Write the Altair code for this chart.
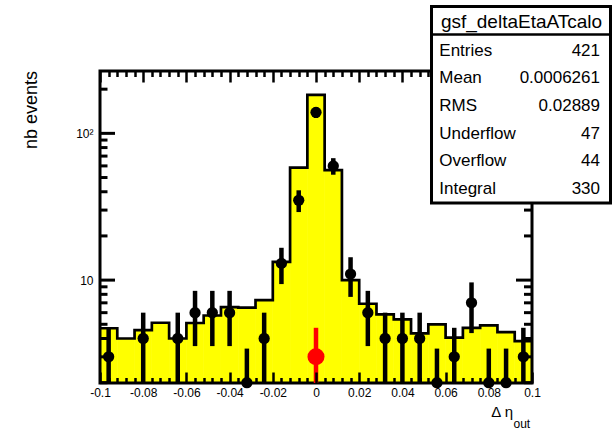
import altair as alt
import numpy as np
import pandas as pd

# ---------------- data ----------------
bin_edges = [-0.1, -0.092, -0.084, -0.076, -0.068, -0.06, -0.052, -0.044, -0.036,
             -0.028, -0.02, -0.012, -0.004, 0.004, 0.012, 0.02, 0.028, 0.036,
             0.044, 0.052, 0.06, 0.068, 0.076, 0.084, 0.092, 0.1]
ref_counts = [4.7, 4.0, 4.56, 5.12, 4.0, 5.1, 5.74, 6.55, 6.5, 7.31, 13.3, 58.4,
              183.0, 56.2, 10.0, 6.9, 5.84, 5.4, 4.33, 4.99, 4.05, 4.73, 4.91,
              4.42, 3.84]

pt_x = [-0.096, -0.080, -0.064, -0.056, -0.048, -0.040, -0.032, -0.024, -0.016,
        -0.008, 0.0, 0.008, 0.016, 0.024, 0.032, 0.040, 0.048, 0.056, 0.064,
        0.072, 0.080, 0.088, 0.096]
pt_n = [3, 4, 4, 6, 6, 6, 2, 4, 13, 35, 139, 60, 11, 6, 4, 4, 4, 2, 3, 7, 2, 2, 3]

red_x = [0.0]
red_n = [3]

x_major = [-0.1, -0.08, -0.06, -0.04, -0.02, 0, 0.02, 0.04, 0.06, 0.08, 0.1]
x_minor = [-0.096, -0.092, -0.088, -0.084, -0.076, -0.072, -0.068, -0.064,
           -0.056, -0.052, -0.048, -0.044, -0.036, -0.032, -0.028, -0.024,
           -0.016, -0.012, -0.008, -0.004, 0.004, 0.008, 0.012, 0.016,
           0.024, 0.028, 0.032, 0.036, 0.044, 0.048, 0.052, 0.056,
           0.064, 0.068, 0.072, 0.076, 0.084, 0.088, 0.092, 0.096]
y_major = [10, 100]
y_minor = [2, 3, 4, 5, 6, 7, 8, 9, 20, 30, 40, 50, 60, 70, 80, 90, 200]

stats_title = "gsf_deltaEtaATcalo"
stats_names = ["Entries", "Mean", "RMS", "Underflow", "Overflow", "Integral"]
stats_values = ["421", "0.0006261", "0.02889", "47", "44", "330"]

# ---------------- tables ----------------
df_bins = pd.DataFrame({"lo": bin_edges[:-1], "hi": bin_edges[1:], "count": ref_counts})
df_hist = pd.DataFrame({"edge": bin_edges, "count": ref_counts + [ref_counts[-1]]})
n = np.array(pt_n, dtype=float)
df_pts = pd.DataFrame({"x": pt_x, "n": n, "lo": n - np.sqrt(n), "hi": n + np.sqrt(n)})
rn = np.array(red_n, dtype=float)
df_red = pd.DataFrame({"x": red_x, "n": rn, "lo": rn - np.sqrt(rn), "hi": rn + np.sqrt(rn)})
df_ymaj = pd.DataFrame({"v": y_major})
df_ymin = pd.DataFrame({"v": y_minor})
one = pd.DataFrame({"a": [0]})

W, H = 432, 312
FONT = "Liberation Sans"
XMIN, XMAX = -0.1, 0.1
PX = (XMAX - XMIN) / W  # data units per pixel (for tick lengths)

xs = alt.Scale(domain=[XMIN, XMAX], nice=False, zero=False)
ys = alt.Scale(type="log", domain=[1.99, 266], nice=False)


def tick_axis(values, size, orient, offset, z):
    return alt.Axis(orient=orient, offset=offset, values=values, tickSize=size,
                    tickWidth=2.5, tickColor="black", labels=False, domain=False,
                    grid=False, title=None, zindex=z)


x_label_axis = alt.Axis(orient="bottom", values=x_major, ticks=False, domain=False,
                        grid=False, title=None, labelFont=FONT, labelFontSize=12,
                        labelColor="black", labelPadding=4, labelFlush=False,
                        labelOverlap=False, labelExpr="'' + datum.value")
y_label_axis = alt.Axis(orient="left", values=y_major, ticks=False, domain=False,
                        grid=False, title=None, labelFont=FONT, labelFontSize=12,
                        labelColor="black", labelPadding=7, labelOverlap=False,
                        labelExpr="datum.value == 100 ? '10\u00b2' : '10'")


def yticks(df, a, b):
    return alt.Chart(df).mark_rule(color="black", strokeWidth=3).encode(
        y=alt.Y("v:Q", scale=ys, axis=None),
        x=alt.X(datum=a, scale=xs, axis=None),
        x2=alt.X2(datum=b))


yt = [yticks(df_ymaj, XMIN, XMIN + 15 * PX), yticks(df_ymin, XMIN, XMIN + 7.5 * PX),
      yticks(df_ymaj, XMAX - 16 * PX, XMAX), yticks(df_ymin, XMAX - 8 * PX, XMAX)]

fill = alt.Chart(df_bins).mark_bar(color="#ffff00", stroke="#ffff00",
                                   strokeWidth=0.6).encode(
    x=alt.X("lo:Q", scale=xs, axis=x_label_axis),
    x2="hi:Q",
    y=alt.Y("count:Q", scale=ys, axis=y_label_axis),
    y2=alt.value(H),
)

outline = alt.Chart(df_hist).mark_line(interpolate="step-after", color="black",
                                       strokeWidth=2.7).encode(
    x=alt.X("edge:Q", scale=xs, axis=None),
    y=alt.Y("count:Q", scale=ys, axis=None),
)


def tick_layer(xax):
    return alt.Chart(df_hist).mark_point(opacity=0).encode(
        x=alt.X("edge:Q", scale=xs, axis=xax),
        y=alt.Y("count:Q", scale=ys, axis=None),
    )


t1 = tick_layer(tick_axis(x_major, 11, "top", -H, 1))
t2 = tick_layer(tick_axis(x_minor, 5.5, "top", -H, 1))
t3 = tick_layer(tick_axis(x_major, 11, "bottom", -H, 0))
t4 = tick_layer(tick_axis(x_minor, 5.5, "bottom", -H, 0))

frame = alt.Chart(one).mark_rect(fillOpacity=0, stroke="black", strokeWidth=3).encode(
    x=alt.value(0), x2=alt.value(W), y=alt.value(0), y2=alt.value(H))

errs = alt.Chart(df_pts).mark_rule(color="black", strokeWidth=4.5, clip=True).encode(
    x=alt.X("x:Q", scale=xs, axis=None),
    y=alt.Y("lo:Q", scale=ys, axis=None),
    y2="hi:Q",
)
pts = alt.Chart(df_pts).mark_circle(color="black", size=127, opacity=1).encode(
    x=alt.X("x:Q", scale=xs, axis=None),
    y=alt.Y("n:Q", scale=ys, axis=None),
)
red_err = alt.Chart(df_red).mark_rule(color="#ff0000", strokeWidth=4.5, clip=True).encode(
    x=alt.X("x:Q", scale=xs, axis=None),
    y=alt.Y("lo:Q", scale=ys, axis=None),
    y2="hi:Q",
)
red_pt = alt.Chart(df_red).mark_circle(color="#ff0000", size=290, opacity=1).encode(
    x=alt.X("x:Q", scale=xs, axis=None),
    y=alt.Y("n:Q", scale=ys, axis=None),
)

# ---------------- stats box ----------------
bx0, bx1, by0, by1 = 331.5, 510.5, -64.5, 132
box = alt.Chart(one).mark_rect(fill="white", stroke="black", strokeWidth=3).encode(
    x=alt.value(bx0), x2=alt.value(bx1), y=alt.value(by0), y2=alt.value(by1))
sep = alt.Chart(one).mark_rule(color="black", strokeWidth=2.5).encode(
    x=alt.value(bx0), x2=alt.value(bx1), y=alt.value(-36.5))
title_txt = alt.Chart(one).mark_text(text=stats_title, font=FONT, fontSize=19,
                                     align="center", baseline="alphabetic",
                                     color="black").encode(
    x=alt.value(421.5), y=alt.value(-42.7))

row_layers = []
for i, (nm, vl) in enumerate(zip(stats_names, stats_values)):
    yb = -15.3 + 27.66 * i
    row_layers.append(alt.Chart(one).mark_text(text=nm, font=FONT, fontSize=17,
                                               align="left", baseline="alphabetic",
                                               color="black").encode(
        x=alt.value(339.3), y=alt.value(yb)))
    row_layers.append(alt.Chart(one).mark_text(text=vl, font=FONT, fontSize=17,
                                               align="right", baseline="alphabetic",
                                               color="black").encode(
        x=alt.value(500), y=alt.value(yb)))

# ---------------- axis titles ----------------
xtitle = alt.Chart(one).mark_text(text="\u0394 \u03b7", font=FONT, fontSize=15,
                                  align="right", baseline="alphabetic",
                                  color="black").encode(
    x=alt.value(413), y=alt.value(345.7))
xsub = alt.Chart(one).mark_text(text="out", font=FONT, fontSize=12, align="left",
                                baseline="alphabetic", color="black").encode(
    x=alt.value(413.5), y=alt.value(357.3))
ytitle = alt.Chart(one).mark_text(text="nb events", font=FONT, fontSize=18, angle=270,
                                  align="center", baseline="alphabetic",
                                  color="black").encode(
    x=alt.value(-63), y=alt.value(39))

chart = alt.layer(
    fill, outline, *yt, t1, t2, t3, t4, frame, errs, pts, red_err, red_pt,
    box, sep, title_txt, *row_layers, xtitle, xsub, ytitle,
).resolve_axis(x="independent", y="independent").properties(
    width=W, height=H,
    padding={"left": 100, "top": 71, "right": 84, "bottom": 49},
    autosize=alt.AutoSizeParams(type="none"),
    background="white",
).configure_view(stroke=None)

chart.save("out.html", embed_options={"renderer": "svg", "actions": False})
